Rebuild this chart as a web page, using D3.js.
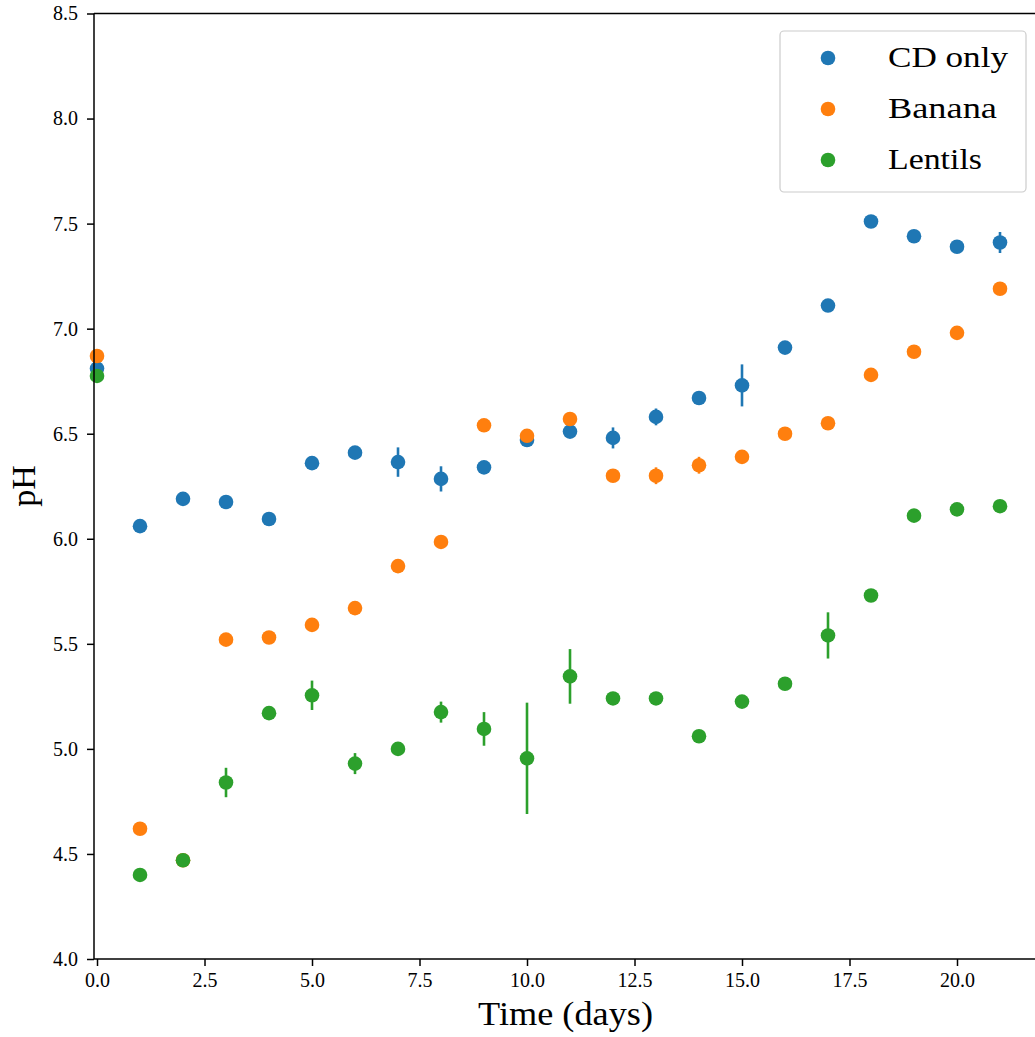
<!DOCTYPE html>
<html>
<head>
<meta charset="utf-8">
<script src="https://cdn.jsdelivr.net/npm/d3@7"></script>
<style>
html,body{margin:0;padding:0;background:#fff;}
svg{display:block;}
text{font-family:"Liberation Serif","DejaVu Serif",serif;fill:#000;}
</style>
</head>
<body>
<div id="chart"></div>
<script>
const days = [0,1,2,3,4,5,6,7,8,9,10,11,12,13,14,15,16,17,18,19,20,21];
const seriesNames = ["CD only","Banana","Lentils"];
const seriesColors = ["#1f77b4","#ff7f0e","#2ca02c"];
const cdOnly    = [6.81,6.06,6.19,6.175,6.094,6.36,6.41,6.365,6.285,6.34,6.47,6.51,6.48,6.58,6.67,6.73,6.91,7.11,7.51,7.44,7.39,7.41];
const cdOnlyErr = [0,0,0,0,0,0.03,0.03,0.07,0.06,0,0,0,0.05,0.04,0,0.1,0,0,0.03,0,0.03,0.05];
const banana    = [6.87,4.62,4.47,5.52,5.53,5.59,5.67,5.87,5.985,6.54,6.49,6.57,6.30,6.30,6.35,6.39,6.50,6.55,6.78,6.89,6.98,7.19];
const bananaErr = [0,0,0,0,0,0,0,0,0,0,0,0,0,0.04,0.04,0,0.03,0,0,0,0,0];
const lentils    = [6.775,4.40,4.47,4.84,5.17,5.255,4.93,5.00,5.175,5.095,4.955,5.345,5.24,5.24,5.06,5.225,5.31,5.54,5.73,6.11,6.14,6.155];
const lentilsErr = [0,0,0,0.07,0,0.07,0.05,0,0.05,0.08,0.265,0.13,0,0,0,0,0,0.11,0,0,0,0];
const xTicks = [0,2.5,5,7.5,10,12.5,15,17.5,20];
const yTicks = [4.0,4.5,5.0,5.5,6.0,6.5,7.0,7.5,8.0,8.5];
const legendWidths = [120,109,94];

const W = 1035, H = 1037;
const mLeft = 94, mRight = 1045, mTop = 13.5, mBottom = 959;
const svg = d3.select("#chart").append("svg").attr("width", W).attr("height", H);

const x = d3.scaleLinear().domain([-0.07, (mRight - 97) / 43]).range([mLeft, mRight]);
const y = d3.scaleLinear().domain([4.0, 8.5]).range([mBottom, mTop]);

const series = [
  {name: seriesNames[0], color: seriesColors[0], v: cdOnly, e: cdOnlyErr},
  {name: seriesNames[1], color: seriesColors[1], v: banana, e: bananaErr},
  {name: seriesNames[2], color: seriesColors[2], v: lentils, e: lentilsErr}
];

const plot = svg.append("g");
series.forEach(s => {
  const g = plot.append("g");
  days.forEach((d, i) => {
    if (s.e[i] > 0) {
      g.append("line")
        .attr("x1", x(d)).attr("x2", x(d))
        .attr("y1", y(s.v[i] - s.e[i])).attr("y2", y(s.v[i] + s.e[i]))
        .attr("stroke", s.color).attr("stroke-width", 2.6);
    }
    g.append("circle").attr("cx", x(d)).attr("cy", y(s.v[i])).attr("r", 7.3).attr("fill", s.color);
  });
});

// axes
const xAxis = d3.axisBottom(x).tickValues(xTicks).tickFormat(d3.format(".1f")).tickSize(7).tickPadding(7);
const yAxis = d3.axisLeft(y).tickValues(yTicks).tickFormat(d3.format(".1f")).tickSize(7).tickPadding(9);

const gx = svg.append("g").attr("transform", `translate(0,${mBottom})`).call(xAxis);
const gy = svg.append("g").attr("transform", `translate(${mLeft},0)`).call(yAxis);
[gx, gy].forEach(g => {
  g.select(".domain").remove();
  g.selectAll(".tick line").attr("stroke", "#000").attr("stroke-width", 1.5);
  g.selectAll(".tick text").attr("font-size", 20).attr("fill", "#111")
    .style("font-family", '"Liberation Serif","DejaVu Serif",serif');
});

// spines
svg.append("line").attr("x1", mLeft).attr("x2", mLeft).attr("y1", mTop).attr("y2", mBottom).attr("stroke","#000").attr("stroke-width",1.5);
svg.append("line").attr("x1", mLeft).attr("x2", W).attr("y1", mBottom).attr("y2", mBottom).attr("stroke","#000").attr("stroke-width",1.5);
svg.append("line").attr("x1", mLeft).attr("x2", W).attr("y1", mTop).attr("y2", mTop).attr("stroke","#000").attr("stroke-width",1.5);

// axis labels
svg.append("text").attr("x", 478).attr("y", 1025).attr("font-size", 34)
  .attr("textLength", 175).attr("lengthAdjust", "spacingAndGlyphs").text("Time (days)");
svg.append("text").attr("transform","translate(35,486) rotate(-90)").attr("text-anchor","middle").attr("font-size", 34).text("pH");

// legend
const lg = svg.append("g");
lg.append("rect").attr("x", 780).attr("y", 31).attr("width", 246).attr("height", 161)
  .attr("rx", 4).attr("fill", "#fff").attr("fill-opacity", 0.8).attr("stroke", "#ccc").attr("stroke-width", 1.2);
series.forEach((s, i) => {
  const cy = 58 + i * 51;
  lg.append("circle").attr("cx", 828).attr("cy", cy).attr("r", 7.3).attr("fill", s.color);
  lg.append("text").attr("x", 888).attr("y", cy + 9).attr("font-size", 30)
    .attr("textLength", legendWidths[i]).attr("lengthAdjust", "spacingAndGlyphs").text(s.name);
});
</script>
</body>
</html>
